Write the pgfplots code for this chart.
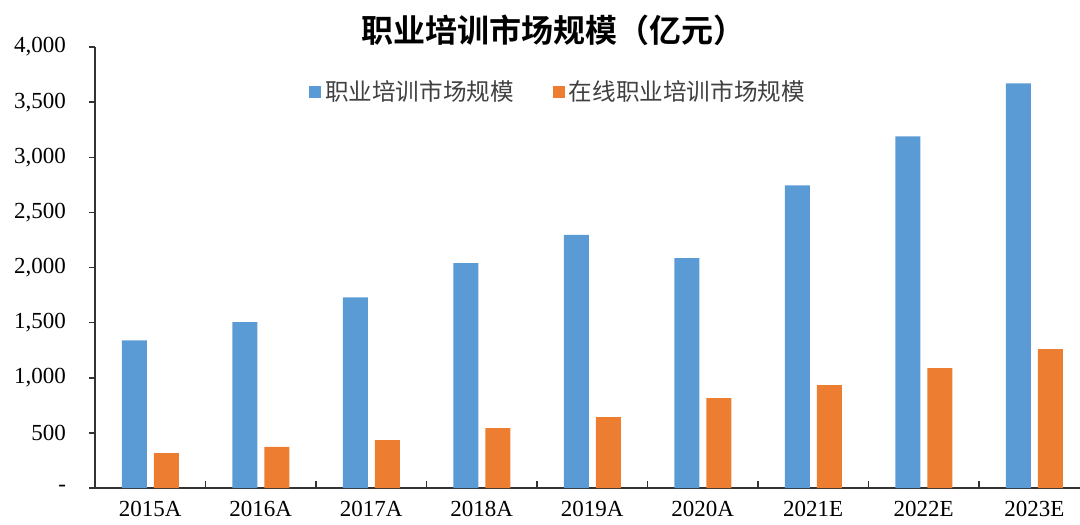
\documentclass[border=0pt]{standalone}
\usepackage{fontspec}
\setmainfont{Liberation Serif}
\newfontfamily\cjk{Noto Sans CJK SC}[BoldFont={Noto Sans CJK SC Bold}]
\usepackage{pgfplots}
\pgfplotsset{compat=1.18}
\definecolor{cblue}{HTML}{5B9BD5}
\definecolor{corange}{HTML}{ED7D31}
\begin{document}
\begin{tikzpicture}
\useasboundingbox (0,0) rectangle (540pt,262pt);
\node[font=\cjk\bfseries\fontsize{16}{18}\selectfont] at (276.5pt,247pt) {职业培训市场规模（亿元）};
\begin{axis}[
 at={(47.5pt,18pt)}, anchor=south west,
 width=492.5pt, height=220.5pt, scale only axis,
 xmin=-0.5, xmax=8.414, ymin=0, ymax=4000,
 axis x line=bottom, axis y line=left,
 axis line style={-, black!80, line width=0.75pt},
 ybar,
 tick align=outside, major tick length=3pt,
 ytick={0,500,...,4000},
 yticklabels={-,500,{1,000},{1,500},{2,000},{2,500},{3,000},{3,500},{4,000}},
 yticklabel style={xshift=-8pt},
 xtick={0,...,8},
 xticklabels={2015A,2016A,2017A,2018A,2019A,2020A,2021E,2022E,2023E},
 major x tick style={draw=none},
 minor xtick={0.5,1.5,...,7.5},
 minor tick length=3.5pt,
 minor x tick style={yshift=3.5pt, black!80, line width=0.75pt},
 major y tick style={black!80, line width=0.75pt},
 tick label style={font=\fontsize{11.5}{13}\selectfont, text=black},
 legend style={at={(0.471,0.898)}, anchor=center, draw=none, fill=none,
   legend columns=2, font=\cjk\fontsize{11.8}{13}\selectfont, text=black!75,
   /tikz/every even column/.append style={column sep=17.5pt}},
 legend image code/.code={\fill[#1] (0pt,-3pt) rectangle (6pt,3pt);},
]
\addplot[fill=cblue, draw=none, bar width=12.5pt, bar shift=-8pt] coordinates
 {(0,1340) (1,1505) (2,1730) (3,2040) (4,2295) (5,2085) (6,2745) (7,3190) (8,3670)};
\addplot[fill=corange, draw=none, bar width=12.5pt, bar shift=8pt] coordinates
 {(0,317) (1,372) (2,435) (3,544) (4,644) (5,816) (6,934) (7,1088) (8,1260)};
\legend{职业培训市场规模,在线职业培训市场规模}
\end{axis}
\end{tikzpicture}
\end{document}
